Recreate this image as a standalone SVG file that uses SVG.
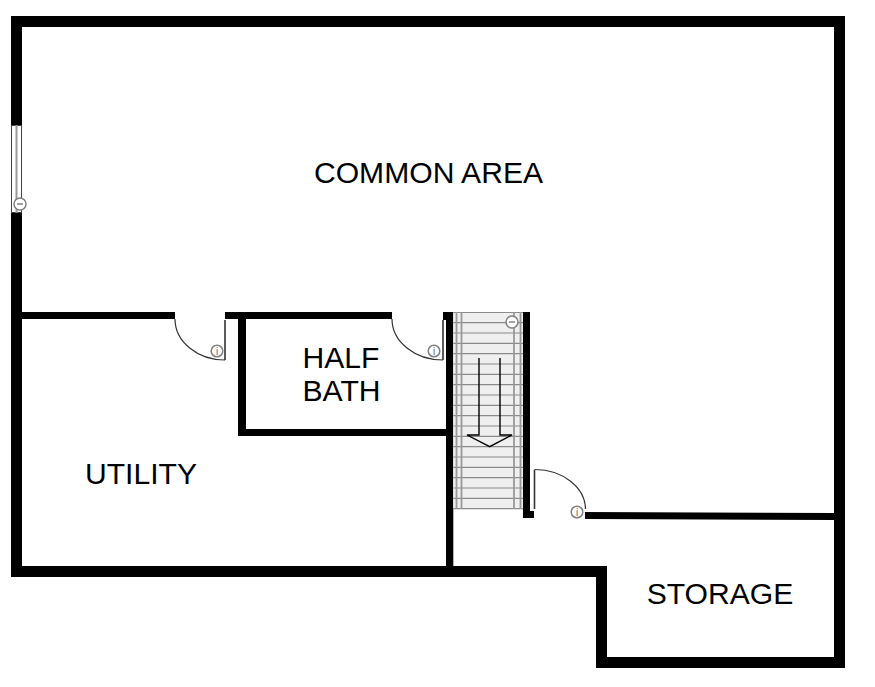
<svg xmlns="http://www.w3.org/2000/svg" width="875" height="687" viewBox="0 0 875 687">
<style>
.w{fill:#000}
.t{font-family:"Liberation Sans",Arial,sans-serif;font-size:30.100px;fill:#000;text-anchor:middle}
.d{fill:none;stroke:#333;stroke-width:1.2}
.p{fill:none;stroke:#333;stroke-width:1.6}
.c{fill:#fff;stroke:#808080;stroke-width:1.500}
.g{font-family:"Liberation Sans",Arial,sans-serif;font-size:10px;fill:#666;text-anchor:middle}
.tr{stroke:#8a8a8a;stroke-width:1.2}
.rl{stroke:#999;stroke-width:1.8}
.a{fill:none;stroke:#000;stroke-width:1.4}
</style>
<rect width="875" height="687" fill="#fff"/>
<g id="walls">
<rect class="w" x="11" y="16" width="834" height="11"/>
<rect class="w" x="834" y="16" width="11" height="652"/>
<rect class="w" x="596" y="657" width="249" height="11"/>
<rect class="w" x="596" y="566" width="11" height="102"/>
<rect class="w" x="11" y="566" width="596" height="11"/>
<rect class="w" x="11" y="16" width="11" height="109"/>
<rect class="w" x="11" y="213" width="11" height="364"/>
<rect class="w" x="22" y="312" width="153" height="7"/>
<rect class="w" x="225" y="312" width="167" height="7"/>
<rect class="w" x="238" y="312" width="8" height="124"/>
<rect class="w" x="238" y="429" width="215" height="7"/>
<rect class="w" x="443" y="312" width="10" height="8"/>
<rect class="w" x="446" y="312" width="7.300" height="265"/>
<rect class="w" x="523" y="312" width="7" height="206"/>
<rect class="w" x="523" y="511" width="11" height="7"/>
<polygon class="w" points="585,512 834,513 834,520 585,519"/>
</g>
<g id="stairs">
<rect x="453.300" y="312" width="69.700" height="197" fill="#efefef"/>
<path class="tr" d="M453.300 312.500H523M453.300 322.700H523M453.300 333H523M453.300 343.300H523M453.300 353.700H523M453.300 364H523M453.300 374.300H523M453.300 384.700H523M453.300 395H523M453.300 405.300H523M453.300 415.700H523M453.300 426H523M453.300 436.300H523M453.300 446.700H523M453.300 457H523M453.300 467.300H523M453.300 477.700H523M453.300 488H523M453.300 498.300H523M453.300 508.700H523" fill="none"/>
<path class="rl" d="M456.500 312V509M461.500 312V509M514 312V509M520.500 312V509" fill="none"/>
<path class="a" d="M479 358V435H467L489.700 446.700L512 435H500V358"/>
</g>
<g id="window">
<rect x="11.500" y="125.500" width="10" height="87" fill="#fff" stroke="#444" stroke-width="1"/>
<path d="M16.500 125V213" stroke="#999" stroke-width="2" fill="none"/>
<circle class="c" cx="20" cy="204" r="6"/>
<path d="M17 204H23" stroke="#666" stroke-width="1.200"/>
</g>
<g id="door-utility">
<path class="d" d="M175 319A50 41 0 0 0 225 360"/>
<path class="p" d="M225 320V360"/>
<circle class="c" cx="217" cy="351" r="5.800"/>
<text class="g" x="217" y="354.500">i</text>
</g>
<g id="door-bath">
<path class="d" d="M392 319A51 41 0 0 0 443 360"/>
<path class="p" d="M443 320V360"/>
<circle class="c" cx="434" cy="351" r="5.800"/>
<text class="g" x="434" y="354.500">i</text>
</g>
<g id="door-storage">
<path class="d" d="M535 469.500A51 40 0 0 1 585.500 509"/>
<path class="p" d="M534.500 469.500V509"/>
<circle class="c" cx="577" cy="512" r="5.800"/>
<text class="g" x="577" y="515.500">i</text>
</g>
<g id="stair-marker">
<circle class="c" cx="512" cy="322" r="6"/>
<path d="M509 322H515" stroke="#666" stroke-width="1.200"/>
</g>
<g id="labels">
<text class="t" x="428.500" y="182.500">COMMON AREA</text>
<text class="t" x="341" y="368">HALF</text>
<text class="t" x="341.500" y="401">BATH</text>
<text class="t" x="141" y="484">UTILITY</text>
<text class="t" x="720" y="604">STORAGE</text>
</g>
</svg>
